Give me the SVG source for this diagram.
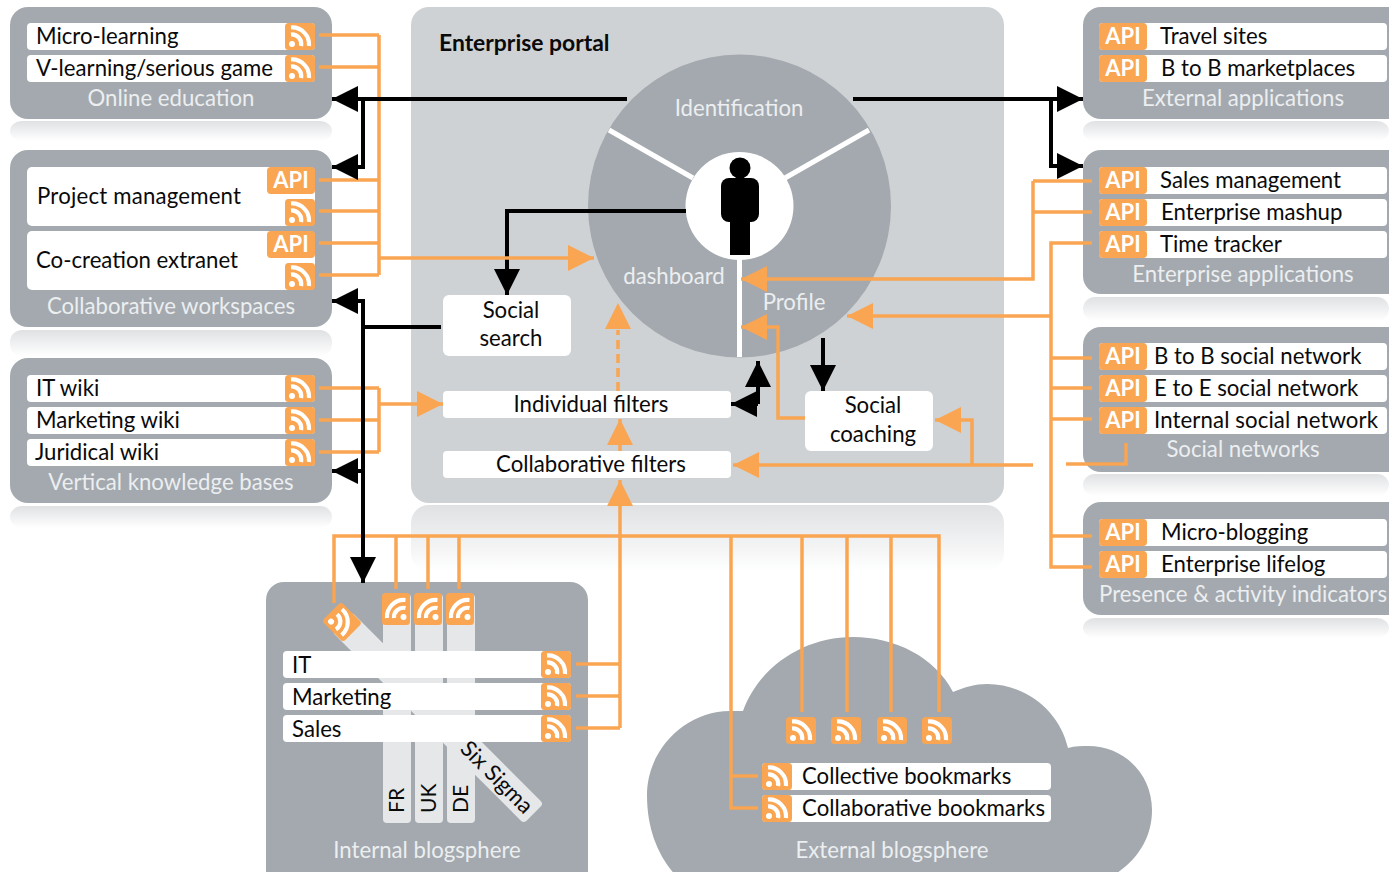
<svg xmlns="http://www.w3.org/2000/svg" width="1389" height="872" viewBox="0 0 1389 872">
<style>
text{font-family:"Lato","Noto Sans",sans-serif;font-size:22.2px;fill:#0a0a0a}
.lbl{fill:#eceef0;text-anchor:middle}
.lw{fill:#eceef0}
.c{text-anchor:middle}
.api{font-weight:700;font-size:22px;fill:#fff;text-anchor:middle}
.pan{fill:#a3a9ae}
.row{fill:#fff}
.ob{fill:#f9a552}
.str{fill:#e6e7e8}
.o{fill:none;stroke:#f9a552;stroke-width:3.5}
.k{fill:none;stroke:#000;stroke-width:4}
.t{font-weight:700;font-size:22.900px}
.v{font-size:21px}
</style>
<defs>
<linearGradient id="rf" x1="0" y1="0" x2="0" y2="1"><stop offset="0" stop-color="#dfe1e3"/><stop offset="1" stop-color="#fff"/></linearGradient>
<g id="rss"><rect width="30" height="27" rx="3.5" class="ob"/><circle cx="7" cy="21" r="3" fill="#fff"/><path d="M6 11.5A9.5 9.5 0 0 1 16 23M6 4.500A17 17 0 0 1 24 23" fill="none" stroke="#fff" stroke-width="4.200"/></g>
<marker id="ao" markerUnits="userSpaceOnUse" markerWidth="26" markerHeight="26" viewBox="0 0 26 26" refX="26" refY="13" orient="auto"><path d="M0 0L26 13L0 26Z" fill="#f9a552"/></marker>
<marker id="ak" markerUnits="userSpaceOnUse" markerWidth="26" markerHeight="26" viewBox="0 0 26 26" refX="26" refY="13" orient="auto"><path d="M0 0L26 13L0 26Z" fill="#000"/></marker>
</defs>
<rect width="1389" height="872" fill="#fff"/>
<g id="reflections">
<rect x="10" y="121" width="322" height="20" rx="12" fill="url(#rf)"/>
<rect x="10" y="330" width="322" height="26" rx="12" fill="url(#rf)"/>
<rect x="10" y="506" width="322" height="22" rx="12" fill="url(#rf)"/>
<rect x="411" y="505" width="593" height="66" rx="18" fill="url(#rf)"/>
<rect x="1083" y="121" width="306" height="20" rx="12" fill="url(#rf)"/>
<rect x="1083" y="297" width="306" height="24" rx="12" fill="url(#rf)"/>
<rect x="1083" y="474" width="306" height="22" rx="12" fill="url(#rf)"/>
<rect x="1083" y="618" width="306" height="20" rx="12" fill="url(#rf)"/>
</g>
<g id="enterprise-portal">
<rect x="411" y="7" width="593" height="496" rx="18" fill="#cfd2d5"/>
<text x="439" y="51" class="t">Enterprise portal</text>
</g>
<g id="portal-wheel">
<circle cx="739.500" cy="206" r="151.500" class="pan"/>
<path d="M609 130L693 178M869 130L785 178M739.500 259V357" stroke="#fff" stroke-width="5" fill="none"/>
<circle cx="739.500" cy="206" r="54" fill="#fff"/>
<circle cx="740" cy="168" r="10.500" fill="#000"/>
<rect x="721" y="178" width="38" height="44" rx="8" fill="#000"/>
<rect x="730" y="200" width="20" height="55" fill="#000"/>
<text x="739" y="116" class="lbl">Identification</text>
<text x="674" y="284" class="lbl">dashboard</text>
<text x="794" y="310" class="lbl">Profile</text>
</g>
<g id="social-search"><rect x="443" y="295" width="128" height="61" rx="6" class="row"/><text x="511" y="318" class="c">Social</text><text x="511" y="346" class="c">search</text></g>
<g id="individual-filters"><rect x="443" y="391" width="288" height="27" rx="4" class="row"/><text x="591" y="412" class="c">Individual filters</text></g>
<g id="collaborative-filters"><rect x="443" y="451" width="288" height="27" rx="4" class="row"/><text x="591" y="472" class="c">Collaborative filters</text></g>
<g id="social-coaching"><rect x="805" y="391" width="128" height="60" rx="6" class="row"/><text x="873" y="413" class="c">Social</text><text x="873" y="442" class="c">coaching</text></g>

<g id="online-education">
<rect x="10" y="7" width="322" height="112" rx="18" class="pan"/>
<rect x="27" y="23" width="288" height="27" rx="4" class="row"/><rect x="27" y="55" width="288" height="27" rx="4" class="row"/>
<text x="36" y="44">Micro-learning</text><text x="36" y="76">V-learning/serious game</text>
<use href="#rss" x="285" y="23"/><use href="#rss" x="285" y="55"/>
<text x="171" y="106" class="lbl">Online education</text>
</g>
<g id="collaborative-workspaces">
<rect x="10" y="150" width="322" height="177" rx="18" class="pan"/>
<rect x="27" y="167" width="288" height="59" rx="5" class="row"/><rect x="27" y="231" width="288" height="59" rx="5" class="row"/>
<text x="37" y="204" textLength="204">Project management</text><text x="36" y="268">Co-creation extranet</text>
<rect x="267" y="167" width="48" height="27" rx="4" class="ob"/><text x="291" y="188" class="api">API</text>
<use href="#rss" x="285" y="199"/>
<rect x="267" y="231" width="48" height="27" rx="4" class="ob"/><text x="291" y="252" class="api">API</text>
<use href="#rss" x="285" y="263"/>
<text x="171" y="314" class="lbl">Collaborative workspaces</text>
</g>
<g id="vertical-knowledge-bases">
<rect x="10" y="358" width="322" height="145" rx="18" class="pan"/>
<rect x="27" y="375" width="288" height="27" rx="4" class="row"/><rect x="27" y="407" width="288" height="27" rx="4" class="row"/><rect x="27" y="439" width="288" height="27" rx="4" class="row"/>
<text x="36" y="396">IT wiki</text><text x="36" y="428">Marketing wiki</text><text x="35" y="460">Juridical wiki</text>
<use href="#rss" x="285" y="375"/><use href="#rss" x="285" y="407"/><use href="#rss" x="285" y="439"/>
<text x="171" y="490" class="lbl">Vertical knowledge bases</text>
</g>
<g id="external-applications">
<rect x="1083" y="7" width="330" height="112" rx="18" class="pan"/>
<rect x="1099" y="23" width="288" height="27" rx="4" class="row"/><rect x="1099" y="55" width="288" height="27" rx="4" class="row"/>
<rect x="1099" y="23" width="48" height="27" rx="4" class="ob"/><text x="1123" y="44" class="api">API</text>
<rect x="1099" y="55" width="48" height="27" rx="4" class="ob"/><text x="1123" y="76" class="api">API</text>
<text x="1160" y="44">Travel sites</text><text x="1161" y="76">B to B marketplaces</text>
<text x="1243" y="106" class="lbl">External applications</text>
</g>
<g id="enterprise-applications">
<rect x="1083" y="150" width="330" height="144" rx="18" class="pan"/>
<rect x="1099" y="167" width="288" height="27" rx="4" class="row"/><rect x="1099" y="199" width="288" height="27" rx="4" class="row"/><rect x="1099" y="231" width="288" height="27" rx="4" class="row"/>
<rect x="1099" y="167" width="48" height="27" rx="4" class="ob"/><text x="1123" y="188" class="api">API</text>
<rect x="1099" y="199" width="48" height="27" rx="4" class="ob"/><text x="1123" y="220" class="api">API</text>
<rect x="1099" y="231" width="48" height="27" rx="4" class="ob"/><text x="1123" y="252" class="api">API</text>
<text x="1160" y="188">Sales management</text><text x="1161" y="220">Enterprise mashup</text><text x="1160" y="252">Time tracker</text>
<text x="1243" y="282" class="lbl">Enterprise applications</text>
</g>
<g id="social-networks">
<rect x="1083" y="327" width="330" height="145" rx="18" class="pan"/>
<rect x="1099" y="343" width="288" height="27" rx="4" class="row"/><rect x="1099" y="375" width="288" height="27" rx="4" class="row"/><rect x="1099" y="407" width="288" height="27" rx="4" class="row"/>
<rect x="1099" y="343" width="48" height="27" rx="4" class="ob"/><text x="1123" y="364" class="api">API</text>
<rect x="1099" y="375" width="48" height="27" rx="4" class="ob"/><text x="1123" y="396" class="api">API</text>
<rect x="1099" y="407" width="48" height="27" rx="4" class="ob"/><text x="1123" y="428" class="api">API</text>
<text x="1154" y="364">B to B social network</text><text x="1154" y="396">E to E social network</text><text x="1154" y="428" textLength="224">Internal social network</text>
<text x="1243" y="457" class="lbl">Social networks</text>
</g>
<g id="presence-activity-indicators">
<rect x="1083" y="502" width="330" height="113" rx="18" class="pan"/>
<rect x="1099" y="519" width="288" height="27" rx="4" class="row"/><rect x="1099" y="551" width="288" height="27" rx="4" class="row"/>
<rect x="1099" y="519" width="48" height="27" rx="4" class="ob"/><text x="1123" y="540" class="api">API</text>
<rect x="1099" y="551" width="48" height="27" rx="4" class="ob"/><text x="1123" y="572" class="api">API</text>
<text x="1161" y="540">Micro-blogging</text><text x="1161" y="572">Enterprise lifelog</text>
<text x="1099" y="602" class="lw" textLength="288">Presence &amp; activity indicators</text>
</g>
<g id="internal-blogsphere">
<rect x="266" y="582" width="322" height="310" rx="18" class="pan"/>
<rect x="383" y="594" width="28" height="229" rx="4" class="str"/><rect x="415" y="594" width="28" height="229" rx="4" class="str"/><rect x="447" y="594" width="28" height="229" rx="4" class="str"/>
<rect x="0" y="-14" width="271" height="28" rx="4" class="str" transform="translate(342,622) rotate(45)"/>
<g transform="translate(382,625) rotate(-90)"><rect width="32" height="28" rx="3.500" class="ob"/><use href="#rss" transform="translate(1,0.500)"/></g>
<g transform="translate(414,625) rotate(-90)"><rect width="32" height="28" rx="3.500" class="ob"/><use href="#rss" transform="translate(1,0.500)"/></g>
<g transform="translate(446,625) rotate(-90)"><rect width="32" height="28" rx="3.500" class="ob"/><use href="#rss" transform="translate(1,0.500)"/></g>
<use href="#rss" transform="translate(342,622) rotate(45) translate(-15,-13.500)"/>
<rect x="283" y="651" width="288" height="27" rx="4" class="row"/><rect x="283" y="683" width="288" height="27" rx="4" class="row"/><rect x="283" y="715" width="288" height="27" rx="4" class="row"/>
<text x="292" y="673">IT</text><text x="292" y="705">Marketing</text><text x="292" y="737">Sales</text>
<use href="#rss" x="541" y="651"/><use href="#rss" x="541" y="683"/><use href="#rss" x="541" y="715"/>
<text class="v" transform="translate(404,813) rotate(-90)">FR</text><text class="v" transform="translate(436,813) rotate(-90)">UK</text><text class="v" transform="translate(468,813) rotate(-90)">DE</text>
<text transform="translate(491.500,782.500) rotate(45)" class="c">Six Sigma</text>
<text x="427" y="858" class="lbl">Internal blogsphere</text>
</g>
<g id="external-blogsphere">
<path d="M743 711C760 665 805 637 853 637C895 637 935 657 953 692C965 687 975 684 987 684C1027 684 1060 712 1068 748C1075 746 1082 746 1088 746C1125 746 1152 775 1152 810C1152 840 1135 865 1105 880L680 880C660 860 647 832 647 795C647 750 685 711 730 711Z" class="pan"/>
<use href="#rss" x="786" y="717"/><use href="#rss" x="831" y="717"/><use href="#rss" x="877" y="717"/><use href="#rss" x="922" y="717"/>
<rect x="762" y="763" width="289" height="27" rx="4" class="row"/><rect x="762" y="795" width="289" height="27" rx="4" class="row"/>
<use href="#rss" x="762" y="763"/><use href="#rss" x="762" y="795"/>
<text x="802" y="784">Collective bookmarks</text><text x="802" y="816" textLength="243">Collaborative bookmarks</text>
<text x="892" y="858" class="lbl">External blogsphere</text>
</g>
<g id="connectors">
<g id="orange-links">
<path class="o" d="M319 35H379M319 67H379M319 180H379M319 211H379M319 243H379M319 275H379M379 35V275"/>
<path class="o" d="M319 388H379M319 420H379M319 452H379M379 388V452"/>
<path class="o" d="M379 404H443" marker-end="url(#ao)"/>
<path class="o" d="M334 603V536H939V712M396 536V589M428 536V589M459 536V589M802 536V712M847 536V712M891 536V712"/>
<path class="o" d="M758 776H731M758 808H731V536"/>
<path class="o" d="M576 664H620M576 696H620M576 728H620"/>
<path class="o" d="M620 728V480" marker-end="url(#ao)"/>
<path class="o" d="M620 451V419" marker-end="url(#ao)"/>
<path class="o" d="M618 391V330" stroke-dasharray="9 5"/>
<path d="M605 329L618 303L631 329Z" fill="#f9a552"/>
<path class="o" d="M1092 181H1033M1092 212H1033"/>
<path class="o" d="M1033 181V279H741" marker-end="url(#ao)"/>
<path class="o" d="M1092 243H1051V567H1092M1051 358H1092M1051 388H1092M1051 419H1092M1051 536H1092"/>
<path class="o" d="M1051 316H847" marker-end="url(#ao)"/>
<path class="o" d="M805 418H778V327H741" marker-end="url(#ao)"/>
<path class="o" d="M1033 465H733" marker-end="url(#ao)"/>
<path class="o" d="M972 465V420H935" marker-end="url(#ao)"/>
<path class="o" d="M1066 464H1126V443"/>
</g>
<g id="black-links">
<path class="k" d="M627 99H332" marker-end="url(#ak)"/>
<path class="k" d="M363 99V167H332" marker-end="url(#ak)"/>
<path class="k" d="M853 99H1083" marker-end="url(#ak)"/>
<path class="k" d="M1051 99V166H1083" marker-end="url(#ak)"/>
<path class="k" d="M686 211H507V295" marker-end="url(#ak)"/>
<path class="k" d="M441 327H363"/>
<path class="k" d="M363 301H332" marker-end="url(#ak)"/>
<path class="k" d="M363 299V583" marker-end="url(#ak)"/>
<path class="k" d="M363 471H332" marker-end="url(#ak)"/>
<path class="k" d="M823 338V391" marker-end="url(#ak)"/>
<path class="k" d="M758 404H731" marker-end="url(#ak)"/>
<path class="k" d="M758 404V361" marker-end="url(#ak)"/>
</g>
<path class="o" d="M379 258H594" marker-end="url(#ao)"/>
</g>
</svg>
